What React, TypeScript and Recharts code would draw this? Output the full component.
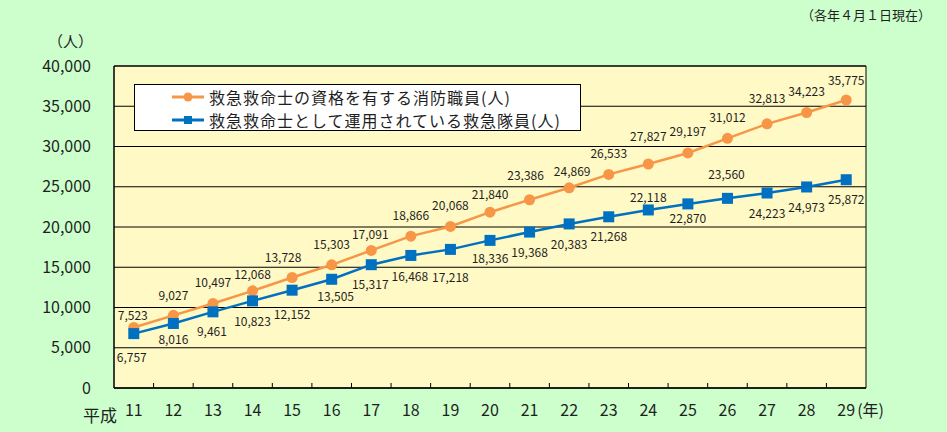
import { LineChart, Line, XAxis, YAxis, CartesianGrid, ReferenceArea, LabelList } from "recharts"

const years = ["11", "12", "13", "14", "15", "16", "17", "18", "19", "20", "21", "22", "23", "24", "25", "26", "27", "28", "29"]
const qualified = [7523, 9027, 10497, 12068, 13728, 15303, 17091, 18866, 20068, 21840, 23386, 24869, 26533, 27827, 29197, 31012, 32813, 34223, 35775]
const operating = [6757, 8016, 9461, 10823, 12152, 13505, 15317, 16468, 17218, 18336, 19368, 20383, 21268, 22118, 22870, 23560, 24223, 24973, 25872]
const yTicks = [0, 5000, 10000, 15000, 20000, 25000, 30000, 35000, 40000]

const qualifiedName = "救急救命士の資格を有する消防職員(人)"
const operatingName = "救急救命士として運用されている救急隊員(人)"

// where each data label sits relative to its point
const qualifiedDx = [-1, 0, 0, 0, -9, 0, -1, 0, 0, 0, -4, 3, 0, 0, 0, 0, 0, 0, 0]
const qualifiedDy = [-12, -20, -21, -16, -20, -20, -16, -20, -21, -17, -24, -16, -21, -27, -21, -21, -25, -21, -19]
const operatingDx = [-2, 0, -1, 0, 0, 4, -1, -1, 0, 0, 0, 0, 0, 0, 0, -1, 0, 0, 0]
const operatingDy = [24, 16, 20, 21, 25, 18, 20, 21, 28, 18, 21, 21, 20, -12, 15, -24, 21, 21, 20]

const ORANGE = "#F79646"
const BLUE = "#0070C0"
const TEXT = "#1f1f1f"
const FONT = '"Noto Sans CJK JP", "Noto Sans", sans-serif'

const W = 947
const H = 432
const LEFT = 114
const RIGHT = 81
const BAND = (W - LEFT - RIGHT) / years.length

const data = years.map((year, i) => ({
	year,
	qualified: qualified[i],
	operating: operating[i],
}))

function YearTick(props: any) {
	const { x, y, payload, index } = props
	return (
		<g>
			{index > 0 && (
				<line x1={x - BAND / 2} x2={x - BAND / 2} y1={y} y2={y - 5} stroke="#000" strokeWidth={1} />
			)}
			<text x={x} y={y + 28} textAnchor="middle" fontSize={16} fill={TEXT} fontFamily={FONT}>
				{payload.value}
			</text>
			{index === years.length - 1 && (
				<text x={x + 11} y={y + 28} textAnchor="start" fontSize={16} fill={TEXT} fontFamily={FONT}>
					(年)
				</text>
			)}
		</g>
	)
}

const makeLabel = (dxs: number[], dys: number[]) => (props: any) => {
	const { x, y, value, index } = props
	return (
		<text
			x={x + dxs[index]}
			y={y + dys[index]}
			dy="0.35em"
			textAnchor="middle"
			fontSize={12}
			fill={TEXT}
			fontFamily={FONT}
		>
			{Number(value).toLocaleString("en-US")}
		</text>
	)
}

function SquareDot(props: any) {
	const { cx, cy } = props
	if (cx == null || cy == null) return null
	return <rect x={cx - 5.5} y={cy - 5.5} width={11} height={11} fill={BLUE} />
}

function LegendBox() {
	const row = (color: string, label: string, square: boolean) => (
		<div style={{ display: "flex", alignItems: "center", height: 23.5 }}>
			<svg width={36} height={12} style={{ marginLeft: 36, marginRight: 2 }}>
				<line x1={1} x2={33} y1={6} y2={6} stroke={color} strokeWidth={3} />
				{square ? (
					<rect x={13} y={2} width={8} height={8} fill={color} />
				) : (
					<circle cx={17} cy={6} r={4.5} fill={color} />
				)}
			</svg>
			<span style={{ fontSize: 16, lineHeight: "18px", letterSpacing: 1, color: TEXT, whiteSpace: "nowrap" }}>
				{label}
			</span>
		</div>
	)
	return (
		<div
			style={{
				position: "absolute",
				left: 134,
				top: 84,
				width: 447,
				height: 47,
				boxSizing: "border-box",
				background: "#fff",
				border: "1px solid #000",
				fontFamily: FONT,
			}}
		>
			{row(ORANGE, qualifiedName, false)}
			{row(BLUE, operatingName, true)}
		</div>
	)
}

export default function App() {
	return (
		<div
			style={{
				position: "absolute",
				left: 0,
				top: 0,
				width: W,
				height: H,
				background: "#CCFFCC",
				fontFamily: FONT,
				color: TEXT,
			}}
		>
			<div style={{ position: "absolute", right: 16, top: 8, fontSize: 13, lineHeight: 1 }}>（各年４月１日現在）</div>
			<div style={{ position: "absolute", left: 48, top: 33, fontSize: 15, lineHeight: 1 }}>（人）</div>
			<div style={{ position: "absolute", left: 83, top: 406, fontSize: 17, lineHeight: 1 }}>平成</div>

			<LineChart width={W} height={H} data={data} margin={{ top: 66, right: RIGHT, left: 0, bottom: 0 }}>
				<CartesianGrid vertical={false} stroke="#000" strokeWidth={1} fill="#FFF9C5" fillOpacity={1} />
				<ReferenceArea y1={0} y2={40000} fill="none" stroke="#000" strokeWidth={1} />
				<XAxis
					dataKey="year"
					scale="band"
					interval={0}
					height={44}
					tickLine={false}
					tickSize={0}
					tickMargin={0}
					axisLine={{ stroke: "#000" }}
					tick={<YearTick />}
				/>
				<YAxis
					width={LEFT}
					domain={[0, 40000]}
					ticks={yTicks}
					interval={0}
					tickLine={false}
					tickSize={0}
					tickMargin={23}
					axisLine={{ stroke: "#000" }}
					tick={{ fontSize: 16, fill: TEXT, fontFamily: FONT }}
					tickFormatter={(v: number) => v.toLocaleString("en-US")}
				/>
				<Line
					dataKey="qualified"
					name={qualifiedName}
					stroke={ORANGE}
					strokeWidth={2.5}
					dot={{ r: 5.5, fill: ORANGE, stroke: "none" }}
					isAnimationActive={false}
				>
					<LabelList dataKey="qualified" content={makeLabel(qualifiedDx, qualifiedDy)} />
				</Line>
				<Line
					dataKey="operating"
					name={operatingName}
					stroke={BLUE}
					strokeWidth={2.5}
					dot={<SquareDot />}
					isAnimationActive={false}
				>
					<LabelList dataKey="operating" content={makeLabel(operatingDx, operatingDy)} />
				</Line>
			</LineChart>
			<LegendBox />
		</div>
	)
}
